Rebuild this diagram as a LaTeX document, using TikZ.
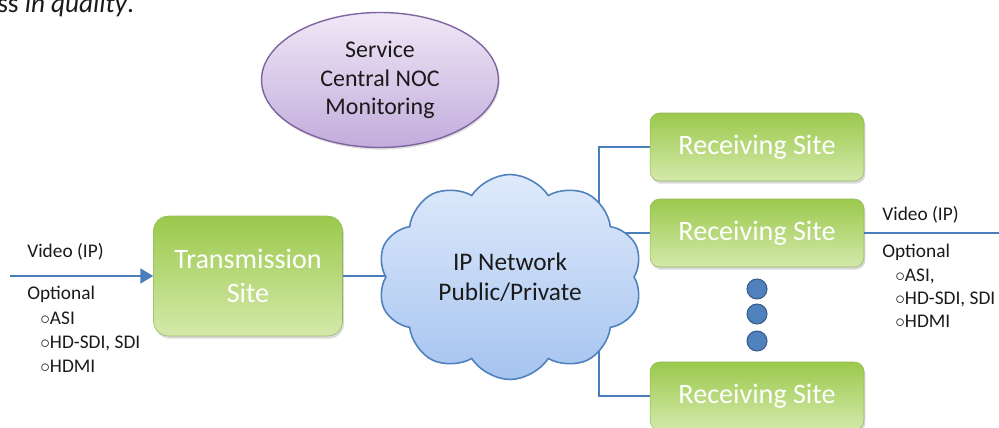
\documentclass[tikz,border=0pt]{standalone}
\usepackage{fontspec}
\setmainfont{Carlito}
\usetikzlibrary{shapes.geometric,shapes.symbols,shadows,arrows.meta,backgrounds}
\definecolor{linkblue}{HTML}{4A7EBB}
\definecolor{sitetop}{HTML}{9BC94D}
\definecolor{sitebottom}{HTML}{D4E9AA}
\definecolor{siteborder}{HTML}{93B85A}
\definecolor{noctop}{HTML}{EFE8F6}
\definecolor{nocbottom}{HTML}{C3ACDC}
\definecolor{nocborder}{HTML}{8064A2}
\definecolor{cloudtop}{HTML}{DFEAFB}
\definecolor{cloudbottom}{HTML}{A6C4F0}
\definecolor{cloudborder}{HTML}{4F81BD}
\definecolor{dotborder}{HTML}{385D8A}
\definecolor{ink}{HTML}{1A1A1A}
\tikzset{
  site/.style={rounded corners=5.5pt, top color=sitetop, bottom color=sitebottom,
    draw=siteborder, line width=0.3pt, text=white, align=center, inner sep=0pt,
    drop shadow={opacity=0.3, shadow xshift=0.8pt, shadow yshift=-1.5pt},
    font=\fontsize{16}{19.2}\selectfont},
  link/.style={draw=linkblue, line width=1.4pt},
  smalltext/.style={anchor=base west, inner sep=0pt, text=ink, font=\fontsize{11}{13}\selectfont},
  dot/.style={circle, minimum size=0.4cm, inner sep=0pt, fill=cloudborder, draw=dotborder, line width=0.6pt}
}
\begin{document}
\begin{tikzpicture}[x=0.02cm, y=-0.02cm]
  \useasboundingbox (0,0) rectangle (999,428);
  \clip (0,0) rectangle (999,428);
  \node[anchor=base west, inner sep=0pt, text=ink, font=\fontsize{15.5}{18}\selectfont] (intro) at (-3,13) {ss \textit{in quality}.};
  % monitoring
  \node[ellipse, minimum width=4.74cm, minimum height=2.7cm, inner sep=0pt,
    top color=noctop, bottom color=nocbottom, draw=nocborder, line width=0.8pt, text=ink,
    align=center, font=\fontsize{13.6}{16.4}\selectfont,
    drop shadow={opacity=0.25, shadow xshift=0.6pt, shadow yshift=-1.2pt}] (noc) at (380,80) {Service\\Central NOC\\Monitoring};
  % sites
  \node[site, rounded corners=8.5pt, minimum width=3.78cm, minimum height=2.4cm] (trans) at (248,276) {Transmission\\Site};
  \node[site, minimum width=4.28cm, minimum height=1.36cm] (rs1) at (757,147) {Receiving Site};
  \node[site, minimum width=4.28cm, minimum height=1.36cm] (rs2) at (757,233) {Receiving Site};
  \node[site, minimum width=4.28cm, minimum height=1.36cm] (rs3) at (757,396) {Receiving Site};
  % network
  \node[cloud, cloud puffs=10, cloud puff arc=115, cloud ignores aspect,
    minimum width=5.3cm, minimum height=4.1cm, inner sep=0pt,
    top color=cloudtop, bottom color=cloudbottom, draw=cloudborder, line width=0.9pt,
    text=ink, align=center, font=\fontsize{14.4}{17.3}\selectfont] (cloud) at (510,277) {IP Network\\Public/Private};
  \foreach \y [count=\i] in {289,314,341}
    \node[dot] (dot\i) at (757,\y) {};
  % links
  \coordinate (src) at (10,276);
  \coordinate (sink) at (1012,233);
  \begin{scope}[on background layer]
    \draw[link] (trans.east) -- (trans.east -| cloud.center);
    \draw[link] (rs2.west) -- (rs2.west -| cloud.center);
    \draw[link] (rs1.west) -- ++(-51,0) |- (rs3.west);
  \end{scope}
  \draw[link, -{Triangle[length=7.4pt, width=8.5pt]}] (src) -- (trans.west);
  \draw[link, -{Triangle[length=7.4pt, width=8.5pt]}] (rs2.east) -- (sink);
  % input
  \node[smalltext] (vidin) at (27,258) {Video (IP)};
  \node[smalltext] (optin) at (27,300) {Optional};
  \node[smalltext] (asiin) at (40,324) {$\circ$ASI};
  \node[smalltext] (sdiin) at (40,348) {$\circ$HD-SDI, SDI};
  \node[smalltext] (hdmiin) at (40,372) {$\circ$HDMI};
  % output
  \node[smalltext] (vidout) at (882,221) {Video (IP)};
  \node[smalltext] (optout) at (882,258) {Optional};
  \node[smalltext] (asiout) at (895,282) {$\circ$ASI,};
  \node[smalltext] (sdiout) at (895,305) {$\circ$HD-SDI, SDI};
  \node[smalltext] (hdmiout) at (895,328) {$\circ$HDMI};
\end{tikzpicture}
\end{document}
